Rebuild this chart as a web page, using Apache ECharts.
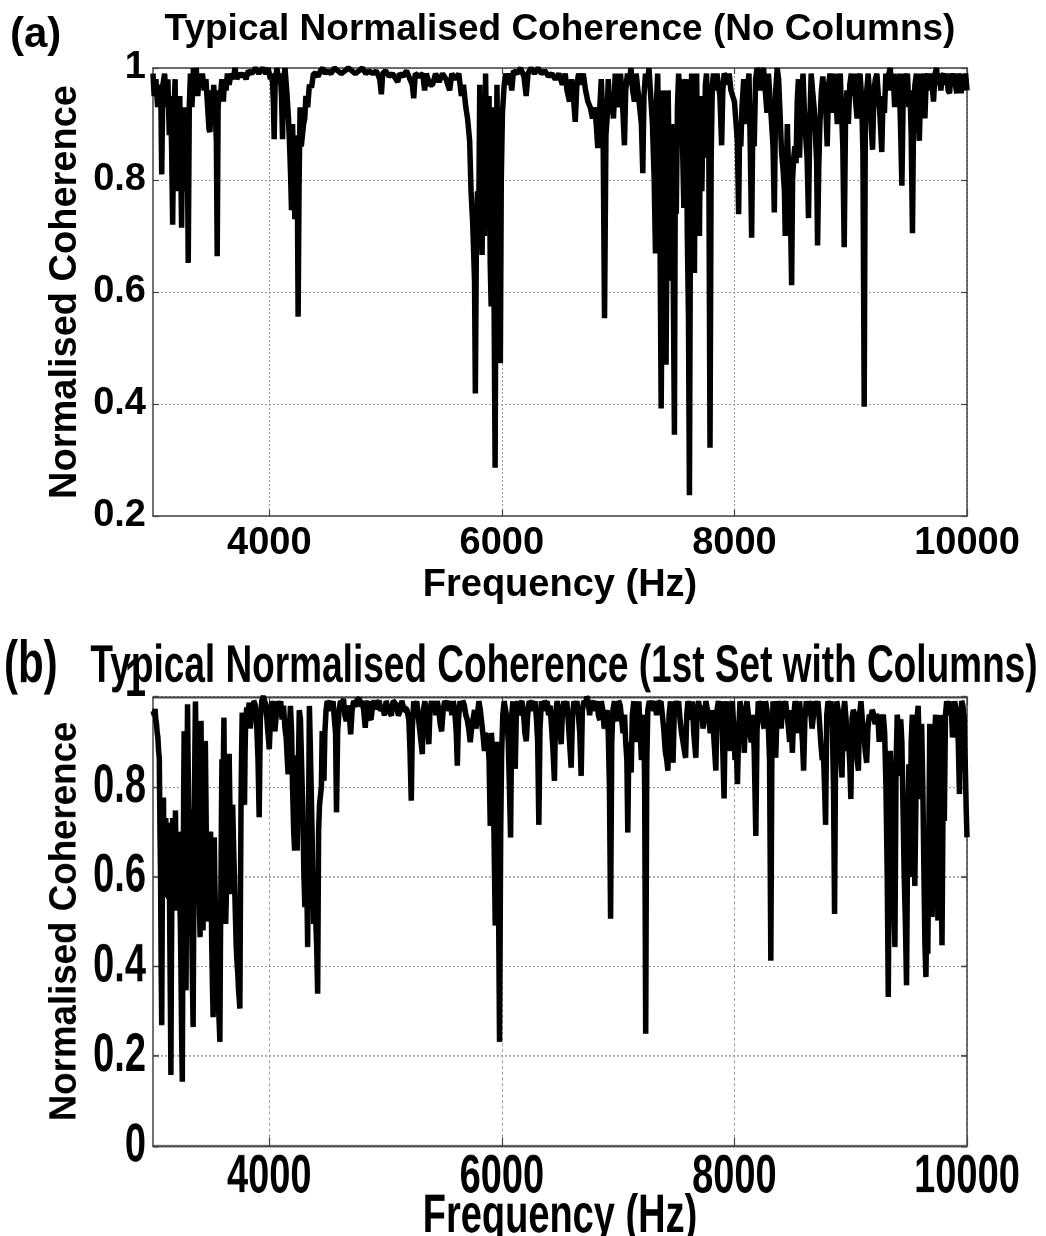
<!DOCTYPE html>
<html><head><meta charset="utf-8">
<script src="https://cdn.jsdelivr.net/npm/echarts@6/dist/echarts.min.js"></script>
<style>
html,body{margin:0;padding:0;background:#fff;overflow:hidden;width:1046px;height:1236px}
#ca{position:absolute;left:0;top:0;width:1046px;height:615px}
#cb{position:absolute;left:0;top:615px;width:1046px;height:460px;transform:scaleY(1.42);transform-origin:0 0}
</style>
</head><body><div id="ca"></div><div id="cb"></div>
<script>
const xTicks = [4000, 6000, 8000, 10000];
const yTicksA = [0.2, 0.4, 0.6, 0.8, 1];
const yTicksB = [0, 0.2, 0.4, 0.6, 0.8, 1];
const panelLabels = ['(a)', '(b)'];
const panelTitles = ['Typical Normalised Coherence (No Columns)', 'Typical Normalised Coherence (1st Set with Columns)'];
const xName = 'Frequency (Hz)';
const yName = 'Normalised Coherence';

// [frequency Hz, normalised coherence]
const coherenceA = [
[3000,0.99],[3010,0.95],[3025,0.98],[3040,0.93],[3055,0.97],[3068,0.94],[3075,0.81],[3085,0.97],[3100,0.99],[3115,0.93],
[3128,0.98],[3140,0.88],[3150,0.95],[3160,0.86],[3169,0.72],[3178,0.90],[3190,0.98],[3198,0.78],[3206,0.93],[3218,0.86],
[3230,0.95],[3238,0.84],[3246,0.715],[3255,0.90],[3265,0.82],[3275,0.93],[3285,0.78],[3295,0.88],[3303,0.652],[3312,0.93],
[3322,0.99],[3335,0.93],[3348,1.0],[3360,0.97],[3372,1.0],[3385,0.95],[3398,0.99],[3410,0.97],[3425,0.99],[3440,0.96],
[3455,0.98],[3470,0.93],[3482,0.89],[3490,0.886],[3500,0.96],[3512,0.90],[3522,0.97],[3535,0.92],[3545,0.87],[3552,0.664],
[3560,0.93],[3570,0.96],[3580,0.95],[3592,0.98],[3605,0.94],[3615,0.98],[3628,0.96],[3640,0.99],[3655,0.97],[3670,0.99],
[3690,0.98],[3705,1.0],[3720,0.98],[3740,0.99],[3760,0.985],[3780,0.99],[3800,0.98],[3820,0.995],[3850,0.99],[3880,1.0],
[3910,0.99],[3940,1.0],[3970,0.99],[3990,1.0],[4010,0.98],[4025,0.99],[4035,0.94],[4042,0.873],[4050,0.97],[4065,1.0],
[4080,0.98],[4095,0.99],[4105,0.95],[4114,0.873],[4122,0.97],[4135,1.0],[4150,0.96],[4165,0.91],[4175,0.86],[4183,0.81],
[4191,0.746],[4200,0.90],[4210,0.80],[4220,0.73],[4230,0.88],[4240,0.83],[4248,0.556],[4256,0.79],[4265,0.93],[4275,0.86],
[4286,0.86],[4295,0.90],[4305,0.91],[4315,0.95],[4330,0.93],[4345,0.97],[4363,0.965],[4380,0.99],[4400,0.99],[4420,0.985],
[4440,0.995],[4460,1.0],[4480,0.99],[4500,0.995],[4530,0.99],[4560,1.0],[4590,0.995],[4620,0.99],[4650,0.995],[4680,1.0],
[4710,0.995],[4740,0.99],[4770,0.995],[4800,1.0],[4830,0.99],[4860,0.995],[4890,0.99],[4920,0.995],[4950,0.98],[4964,0.953],
[4975,0.99],[5000,0.995],[5030,0.985],[5060,0.99],[5090,0.98],[5105,0.975],[5120,0.99],[5150,0.985],[5180,0.995],[5210,0.98],
[5230,0.97],[5242,0.946],[5255,0.99],[5290,0.985],[5320,0.99],[5336,0.96],[5350,0.99],[5380,0.97],[5404,0.97],[5430,0.99],
[5460,0.975],[5490,0.99],[5520,0.98],[5551,0.96],[5570,0.99],[5600,0.98],[5630,0.99],[5652,0.95],[5670,0.97],[5690,0.93],
[5705,0.91],[5723,0.87],[5735,0.78],[5750,0.72],[5765,0.62],[5772,0.419],[5780,0.66],[5790,0.78],[5800,0.70],[5810,0.97],
[5820,0.80],[5830,0.666],[5840,0.92],[5850,0.70],[5860,0.99],[5870,0.83],[5880,0.72],[5890,0.95],[5900,0.65],[5908,0.574],
[5918,0.78],[5925,0.93],[5932,0.62],[5942,0.286],[5950,0.70],[5958,0.97],[5966,0.76],[5975,0.55],[5987,0.473],[5995,0.80],
[6005,0.92],[6020,0.97],[6033,0.99],[6050,0.97],[6070,0.99],[6085,0.96],[6100,0.995],[6130,0.99],[6160,1.0],[6190,0.985],
[6209,0.95],[6225,0.99],[6250,1.0],[6280,0.99],[6310,1.0],[6340,0.99],[6370,0.995],[6400,0.985],[6430,0.99],[6460,0.98],
[6490,0.99],[6520,0.97],[6545,0.99],[6560,0.96],[6582,0.94],[6600,0.98],[6615,0.95],[6631,0.904],[6645,0.97],[6660,0.99],
[6680,0.97],[6700,0.99],[6720,0.96],[6740,0.94],[6760,0.93],[6780,0.91],[6800,0.93],[6815,0.89],[6825,0.857],[6840,0.92],
[6855,0.98],[6870,0.90],[6883,0.553],[6895,0.88],[6905,0.91],[6915,0.98],[6930,0.92],[6945,0.94],[6960,0.91],[6975,0.99],
[6990,0.95],[7005,0.93],[7020,0.99],[7035,0.95],[7054,0.862],[7065,0.96],[7080,0.99],[7095,0.97],[7110,1.0],[7125,0.96],
[7140,0.94],[7155,0.99],[7170,0.96],[7185,0.93],[7200,0.90],[7212,0.812],[7222,0.95],[7235,0.99],[7250,0.97],[7265,1.0],
[7280,0.95],[7295,0.90],[7310,0.80],[7321,0.669],[7330,0.94],[7340,0.99],[7350,0.86],[7360,0.70],[7370,0.392],[7378,0.62],
[7386,0.96],[7395,0.83],[7405,0.62],[7412,0.47],[7420,0.70],[7430,0.96],[7440,0.80],[7450,0.62],[7460,0.90],[7470,0.72],
[7484,0.345],[7492,0.85],[7500,0.74],[7510,0.93],[7520,0.99],[7530,0.96],[7545,0.98],[7555,0.85],[7565,0.75],[7575,0.97],
[7585,0.98],[7595,0.70],[7605,0.55],[7613,0.237],[7622,0.75],[7632,0.99],[7642,0.85],[7656,0.634],[7665,0.96],[7675,0.99],
[7685,0.80],[7699,0.70],[7710,0.95],[7720,0.78],[7730,0.92],[7740,0.84],[7750,0.97],[7760,0.99],[7770,0.90],[7780,0.84],
[7790,0.322],[7800,0.84],[7810,0.97],[7820,0.99],[7835,0.96],[7850,0.99],[7862,0.97],[7875,0.95],[7890,0.862],[7900,0.96],
[7912,0.99],[7925,0.985],[7940,0.97],[7955,0.99],[7970,0.96],[7985,0.95],[8000,0.94],[8015,0.94],[8025,0.87],[8036,0.739],
[8045,0.90],[8055,0.86],[8065,0.93],[8080,0.98],[8095,0.90],[8110,0.96],[8125,0.99],[8136,0.86],[8148,0.697],[8158,0.90],
[8170,0.86],[8182,0.98],[8195,1.0],[8210,0.99],[8222,0.96],[8235,0.99],[8250,1.0],[8265,0.96],[8280,0.92],[8292,0.99],
[8305,0.95],[8320,0.90],[8332,0.86],[8343,0.742],[8355,0.96],[8368,1.0],[8380,0.98],[8392,0.92],[8405,0.85],[8418,0.82],
[8430,0.78],[8437,0.70],[8445,0.80],[8455,0.90],[8465,0.82],[8475,0.74],[8485,0.70],[8492,0.612],[8500,0.80],[8510,0.84],
[8520,0.86],[8530,0.83],[8540,0.94],[8550,0.98],[8560,0.84],[8570,0.92],[8580,0.96],[8590,0.99],[8600,0.93],[8612,0.88],
[8625,0.84],[8637,0.732],[8648,0.90],[8660,0.99],[8672,0.96],[8685,0.93],[8697,0.88],[8707,0.83],[8715,0.683],[8725,0.82],
[8735,0.90],[8748,0.96],[8760,0.985],[8772,0.95],[8785,0.93],[8798,0.86],[8810,0.97],[8822,0.99],[8835,0.96],[8848,0.92],
[8860,0.99],[8872,0.95],[8885,0.90],[8897,0.97],[8910,0.99],[8920,0.93],[8932,0.86],[8944,0.68],[8955,0.90],[8968,0.96],
[8980,0.90],[8992,0.97],[9005,0.99],[9018,0.95],[9030,0.99],[9042,0.94],[9055,0.91],[9068,0.98],[9080,0.99],[9093,0.95],
[9105,0.85],[9116,0.395],[9126,0.92],[9138,0.96],[9150,0.99],[9163,0.95],[9175,0.90],[9188,0.854],[9200,0.96],[9212,0.98],
[9225,0.99],[9238,0.95],[9250,0.92],[9260,0.88],[9267,0.85],[9278,0.95],[9290,0.92],[9302,0.99],[9315,0.96],[9328,0.99],
[9340,1.0],[9352,0.96],[9365,0.99],[9378,0.93],[9390,0.97],[9402,0.95],[9415,0.99],[9428,0.90],[9440,0.79],[9450,0.93],
[9462,0.99],[9475,0.97],[9488,0.99],[9500,0.93],[9510,0.96],[9520,0.88],[9531,0.705],[9540,0.90],[9552,0.97],[9565,0.99],
[9578,0.94],[9590,0.87],[9600,0.95],[9612,0.99],[9625,0.96],[9638,0.91],[9650,0.98],[9662,0.99],[9675,0.96],[9688,0.99],
[9700,0.97],[9712,0.94],[9725,0.99],[9738,1.0],[9750,0.97],[9762,0.99],[9775,0.96],[9788,0.985],[9800,0.99],[9812,0.97],
[9825,0.99],[9838,0.96],[9850,0.955],[9862,0.99],[9875,0.98],[9888,0.99],[9900,0.97],[9912,0.955],[9925,0.99],[9938,0.98],
[9950,0.955],[9962,0.99],[9975,0.97],[9988,0.99],[10000,0.96]
];

// [frequency Hz, normalised coherence]
const coherenceB = [
[3000,0.97],[3006,0.975],[3012,0.96],[3018,0.973],[3024,0.95],[3030,0.94],[3036,0.92],[3042,0.91],[3048,0.88],[3054,0.865],
[3060,0.70],[3065,0.60],[3070,0.40],[3075,0.269],[3080,0.55],[3085,0.70],[3090,0.776],[3095,0.62],[3100,0.554],[3105,0.68],
[3110,0.73],[3115,0.58],[3120,0.60],[3125,0.72],[3130,0.68],[3135,0.55],[3140,0.62],[3145,0.45],[3150,0.30],[3154,0.158],
[3158,0.40],[3162,0.55],[3166,0.68],[3170,0.73],[3174,0.60],[3178,0.695],[3182,0.60],[3186,0.524],[3190,0.66],[3193,0.747],
[3197,0.65],[3200,0.62],[3205,0.70],[3210,0.53],[3215,0.66],[3220,0.70],[3225,0.62],[3230,0.55],[3235,0.50],[3240,0.40],
[3246,0.25],[3252,0.143],[3256,0.40],[3260,0.60],[3264,0.80],[3268,0.924],[3272,0.75],[3276,0.63],[3280,0.45],[3284,0.347],
[3288,0.55],[3292,0.80],[3297,0.984],[3301,0.88],[3305,0.80],[3310,0.70],[3315,0.62],[3320,0.75],[3325,0.60],[3330,0.55],
[3335,0.45],[3340,0.35],[3345,0.265],[3350,0.50],[3355,0.70],[3360,0.88],[3365,0.99],[3370,0.90],[3375,0.80],[3380,0.75],
[3385,0.687],[3390,0.62],[3395,0.58],[3400,0.52],[3405,0.465],[3409,0.75],[3413,0.947],[3417,0.80],[3420,0.70],[3425,0.58],
[3430,0.48],[3435,0.62],[3440,0.75],[3445,0.85],[3450,0.902],[3455,0.78],[3460,0.65],[3466,0.55],[3472,0.50],[3478,0.58],
[3485,0.62],[3490,0.68],[3495,0.70],[3500,0.58],[3505,0.45],[3511,0.36],[3517,0.287],[3522,0.50],[3527,0.687],[3531,0.60],
[3535,0.55],[3540,0.50],[3545,0.45],[3550,0.42],[3555,0.38],[3560,0.34],[3565,0.30],[3570,0.27],[3575,0.232],[3580,0.45],
[3585,0.60],[3589,0.75],[3593,0.861],[3597,0.78],[3600,0.70],[3605,0.85],[3610,0.954],[3614,0.80],[3618,0.65],[3622,0.56],
[3625,0.495],[3630,0.55],[3635,0.60],[3640,0.68],[3645,0.76],[3650,0.82],[3655,0.873],[3660,0.78],[3665,0.70],[3670,0.62],
[3675,0.561],[3680,0.68],[3685,0.76],[3690,0.70],[3695,0.65],[3700,0.60],[3705,0.55],[3710,0.50],[3715,0.45],[3720,0.42],
[3725,0.40],[3730,0.38],[3735,0.35],[3741,0.33],[3747,0.306],[3752,0.55],[3757,0.76],[3762,0.88],[3767,0.965],[3772,0.85],
[3777,0.78],[3782,0.77],[3787,0.76],[3792,0.88],[3797,0.95],[3807,0.976],[3817,0.96],[3827,0.987],[3837,0.93],[3847,0.98],
[3857,0.97],[3867,0.99],[3880,0.98],[3893,0.93],[3903,0.86],[3913,0.732],[3923,0.95],[3935,0.99],[3948,1.0],[3960,0.99],
[3972,0.98],[3985,0.93],[3995,0.90],[4000,0.884],[4010,0.95],[4022,0.99],[4035,0.97],[4048,0.924],[4060,0.96],[4072,0.99],
[4085,0.97],[4098,0.99],[4110,0.95],[4122,0.98],[4135,0.93],[4145,0.91],[4155,0.86],[4162,0.828],[4172,0.92],[4182,0.98],
[4192,0.92],[4200,0.80],[4210,0.70],[4218,0.658],[4225,0.80],[4232,0.87],[4240,0.658],[4250,0.85],[4258,0.97],[4268,0.95],
[4278,0.85],[4288,0.75],[4298,0.60],[4306,0.532],[4314,0.70],[4322,0.60],[4330,0.443],[4338,0.75],[4345,0.98],[4352,0.90],
[4360,0.80],[4368,0.70],[4375,0.60],[4382,0.495],[4390,0.60],[4400,0.50],[4408,0.44],[4416,0.339],[4424,0.70],[4432,0.76],
[4440,0.78],[4448,0.80],[4455,0.924],[4463,0.85],[4470,0.813],[4478,0.92],[4488,0.97],[4498,0.99],[4510,0.98],[4522,0.99],
[4535,0.97],[4548,0.99],[4560,0.95],[4570,0.92],[4578,0.743],[4588,0.924],[4600,0.97],[4612,0.99],[4625,0.98],[4638,0.995],
[4650,0.96],[4662,0.947],[4675,0.98],[4688,0.96],[4700,0.917],[4712,0.97],[4725,0.99],[4738,0.98],[4750,0.99],[4762,0.985],
[4775,0.995],[4788,0.98],[4800,0.99],[4812,0.97],[4825,0.932],[4838,0.98],[4850,0.99],[4862,0.96],[4875,0.95],[4888,0.98],
[4900,0.99],[4915,0.975],[4930,0.98],[4945,0.99],[4960,0.97],[4975,0.98],[4990,0.96],[5005,0.99],[5020,0.975],[5035,0.98],
[5050,0.96],[5065,0.99],[5080,0.985],[5095,0.98],[5110,0.96],[5125,0.97],[5140,0.99],[5155,0.975],[5170,0.98],[5185,0.97],
[5200,0.95],[5210,0.88],[5221,0.769],[5230,0.93],[5242,0.99],[5255,0.97],[5268,0.99],[5280,0.96],[5292,0.93],[5305,0.90],
[5316,0.873],[5325,0.97],[5338,0.99],[5350,0.96],[5362,0.93],[5372,0.895],[5382,0.97],[5395,0.99],[5408,0.97],[5420,0.99],
[5432,0.96],[5445,0.99],[5458,0.97],[5470,0.94],[5482,0.924],[5495,0.97],[5508,0.99],[5520,0.98],[5532,0.99],[5545,0.97],
[5558,0.99],[5570,0.96],[5582,0.99],[5595,0.97],[5608,0.92],[5617,0.847],[5627,0.95],[5640,0.99],[5652,0.97],[5665,0.99],
[5678,0.98],[5690,0.96],[5702,0.95],[5715,0.93],[5728,0.90],[5740,0.93],[5752,0.95],[5765,0.97],[5778,0.93],[5790,0.96],
[5802,0.99],[5815,0.97],[5828,0.94],[5840,0.91],[5850,0.88],[5860,0.92],[5870,0.89],[5880,0.90],[5890,0.86],[5900,0.713],
[5910,0.92],[5920,0.88],[5932,0.70],[5943,0.491],[5952,0.75],[5962,0.90],[5970,0.60],[5980,0.232],[5990,0.70],[5998,0.873],
[6008,0.96],[6020,0.99],[6032,0.97],[6045,0.95],[6055,0.90],[6065,0.80],[6075,0.687],[6085,0.96],[6095,0.99],[6105,0.90],
[6115,0.84],[6125,0.97],[6135,0.99],[6148,0.96],[6160,0.98],[6172,0.99],[6185,0.97],[6198,0.92],[6210,0.902],[6222,0.96],
[6235,0.99],[6248,0.98],[6260,0.99],[6272,0.97],[6285,0.99],[6298,0.95],[6308,0.90],[6318,0.715],[6328,0.93],[6340,0.99],
[6352,0.97],[6365,0.99],[6378,0.98],[6390,0.99],[6402,0.96],[6415,0.98],[6428,0.93],[6440,0.88],[6452,0.813],[6462,0.96],
[6475,0.99],[6488,0.97],[6500,0.93],[6510,0.895],[6520,0.96],[6532,0.99],[6545,0.97],[6558,0.99],[6570,0.95],[6582,0.90],
[6596,0.843],[6608,0.96],[6620,0.99],[6632,0.97],[6645,0.99],[6658,0.96],[6670,0.92],[6682,0.824],[6692,0.97],[6705,0.99],
[6718,0.98],[6730,1.0],[6742,0.99],[6755,0.96],[6768,0.99],[6780,0.98],[6792,0.99],[6805,0.97],[6818,0.99],[6830,0.96],
[6842,0.95],[6855,0.99],[6868,0.97],[6880,0.93],[6892,0.924],[6905,0.97],[6915,0.92],[6925,0.80],[6935,0.506],[6945,0.90],
[6955,0.97],[6968,0.99],[6980,0.96],[6992,0.947],[7005,0.99],[7018,0.98],[7030,0.95],[7042,0.92],[7055,0.96],[7065,0.90],
[7075,0.86],[7083,0.698],[7092,0.90],[7102,0.86],[7112,0.832],[7122,0.96],[7135,0.99],[7148,0.93],[7158,0.90],[7168,0.96],
[7178,0.99],[7190,0.92],[7200,0.86],[7210,0.90],[7220,0.96],[7228,0.80],[7237,0.25],[7246,0.85],[7255,0.97],[7268,0.99],
[7280,0.976],[7292,0.99],[7305,0.97],[7318,0.99],[7330,0.96],[7342,0.99],[7355,0.98],[7368,0.99],[7380,0.96],[7392,0.93],
[7405,0.88],[7418,0.86],[7428,0.836],[7438,0.96],[7450,0.99],[7462,0.92],[7472,0.854],[7482,0.96],[7495,0.99],[7508,0.97],
[7520,0.99],[7532,0.95],[7545,0.92],[7558,0.90],[7570,0.88],[7580,0.865],[7590,0.96],[7600,0.99],[7612,0.97],[7625,0.95],
[7638,0.99],[7650,0.92],[7668,0.865],[7680,0.97],[7692,0.99],[7705,0.96],[7718,0.98],[7730,0.93],[7742,0.96],[7755,0.99],
[7768,0.97],[7780,0.95],[7792,0.92],[7805,0.97],[7818,0.93],[7830,0.88],[7840,0.836],[7850,0.97],[7862,0.99],[7875,0.96],
[7888,0.99],[7900,0.88],[7911,0.774],[7921,0.96],[7932,0.99],[7945,0.93],[7958,0.88],[7970,0.97],[7982,0.99],[7995,0.93],
[8005,0.86],[8015,0.90],[8026,0.806],[8036,0.92],[8048,0.99],[8060,0.97],[8072,0.95],[8085,0.876],[8095,0.96],[8108,0.99],
[8120,0.96],[8132,0.92],[8145,0.90],[8158,0.96],[8170,0.88],[8184,0.691],[8194,0.92],[8205,0.99],[8218,0.97],[8230,0.99],
[8242,0.95],[8255,0.93],[8268,0.99],[8280,0.97],[8292,0.93],[8302,0.86],[8313,0.413],[8322,0.88],[8332,0.99],[8345,0.96],
[8355,0.865],[8365,0.95],[8378,0.99],[8390,0.97],[8402,0.93],[8415,0.99],[8428,0.97],[8440,0.99],[8452,0.96],[8465,0.93],
[8475,0.90],[8485,0.97],[8498,0.876],[8510,0.96],[8522,0.99],[8535,0.97],[8548,0.92],[8560,0.99],[8572,0.95],[8585,0.90],
[8595,0.836],[8606,0.95],[8618,0.99],[8630,0.96],[8642,0.99],[8655,0.97],[8668,0.93],[8680,0.96],[8692,0.99],[8705,0.97],
[8718,0.99],[8730,0.95],[8742,0.90],[8755,0.86],[8765,0.88],[8775,0.80],[8784,0.715],[8794,0.96],[8805,0.99],[8818,0.97],
[8830,0.99],[8842,0.93],[8852,0.80],[8861,0.517],[8870,0.88],[8880,0.99],[8892,0.97],[8905,0.93],[8915,0.86],[8925,0.821],
[8935,0.96],[8948,0.99],[8960,0.95],[8972,0.88],[8982,0.90],[8992,0.85],[9001,0.773],[9011,0.95],[9022,0.97],[9035,0.96],
[9045,0.92],[9055,0.86],[9066,0.836],[9076,0.96],[9088,0.99],[9100,0.95],[9112,0.92],[9125,0.88],[9137,0.854],[9148,0.93],
[9160,0.96],[9172,0.95],[9185,0.97],[9198,0.96],[9210,0.94],[9222,0.96],[9235,0.95],[9245,0.90],[9256,0.96],[9268,0.94],
[9280,0.96],[9292,0.92],[9303,0.80],[9314,0.60],[9323,0.332],[9332,0.70],[9340,0.88],[9350,0.80],[9360,0.65],[9370,0.55],
[9380,0.443],[9390,0.85],[9400,0.96],[9410,0.93],[9420,0.824],[9430,0.95],[9440,0.90],[9450,0.75],[9460,0.60],[9470,0.50],
[9480,0.358],[9490,0.70],[9500,0.85],[9510,0.599],[9520,0.90],[9530,0.96],[9540,0.80],[9551,0.579],[9560,0.75],[9570,0.95],
[9580,0.98],[9590,0.88],[9600,0.773],[9610,0.94],[9620,0.80],[9630,0.60],[9638,0.45],[9647,0.376],[9655,0.55],[9663,0.428],
[9672,0.70],[9680,0.94],[9690,0.80],[9700,0.51],[9710,0.75],[9720,0.90],[9730,0.96],[9740,0.70],[9750,0.502],[9760,0.78],
[9770,0.96],[9778,0.60],[9785,0.447],[9795,0.80],[9805,0.724],[9815,0.96],[9825,0.99],[9835,0.97],[9845,0.99],[9855,0.96],
[9865,0.98],[9875,0.91],[9885,0.96],[9895,0.99],[9905,0.97],[9915,0.95],[9925,0.90],[9935,0.784],[9945,0.96],[9955,0.99],
[9965,0.98],[9975,0.95],[9985,0.85],[9993,0.75],[10000,0.687]
];

const font = "'Liberation Sans', Arial, Helvetica, sans-serif";
const axisColor = '#444';
const gridLineStyle = { color: '#999', type: [2, 2], width: 1 };
const text = { color: '#000', fontFamily: font, fontWeight: 'bold', fontSize: 38 };

function fmtY(v) { return String(Math.round(v * 10) / 10); }
function fmtYRaisedTop(v) { return v >= 1 ? '{up|1}' : fmtY(v); }
function fmtX(v) { return String(Math.round(v)); }

function makeAxes(yMin, xLabelMargin, xNameGap, showYName, yNameGap, raiseTop) {
  const xs = [
    { type: 'value', min: 3000, max: 10000, position: 'bottom',
      axisLine: { show: true, onZero: false, lineStyle: { color: axisColor, width: 1.5 } },
      axisTick: { show: true, inside: true, length: 6, customValues: xTicks, lineStyle: { color: axisColor, width: 1.2 } },
      axisLabel: Object.assign({ show: true, customValues: xTicks, margin: xLabelMargin, formatter: fmtX }, text),
      splitLine: { show: true, lineStyle: gridLineStyle },
      name: xName, nameLocation: 'middle', nameGap: xNameGap, nameMoveOverlap: false,
      nameTextStyle: Object.assign({}, text) },
    { type: 'value', min: 3000, max: 10000, position: 'top',
      axisLine: { show: true, onZero: false, lineStyle: { color: axisColor, width: 1.5 } },
      axisTick: { show: true, inside: true, length: 6, customValues: xTicks, lineStyle: { color: axisColor, width: 1.2 } },
      axisLabel: { show: false }, splitLine: { show: false } }
  ];
  const yLabel = Object.assign({ show: true, margin: 7, formatter: raiseTop ? fmtYRaisedTop : fmtY }, text);
  if (raiseTop) {
    yLabel.rich = { up: Object.assign({}, text, { padding: [0, 0, 22, 0] }) };
  }
  const left = { type: 'value', min: yMin, max: 1, interval: 0.2, position: 'left',
      axisLine: { show: true, onZero: false, lineStyle: { color: axisColor, width: 1.5 } },
      axisTick: { show: true, inside: true, length: 6, lineStyle: { color: axisColor, width: 1.2 } },
      axisLabel: yLabel,
      splitLine: { show: true, lineStyle: gridLineStyle } };
  if (showYName) {
    Object.assign(left, { name: yName, nameLocation: 'middle', nameGap: yNameGap, nameRotate: 90, nameMoveOverlap: false,
      nameTextStyle: Object.assign({}, text) });
  }
  const ys = [left,
    { type: 'value', min: yMin, max: 1, interval: 0.2, position: 'right',
      axisLine: { show: true, onZero: false, lineStyle: { color: axisColor, width: 1.5 } },
      axisTick: { show: true, inside: true, length: 6, lineStyle: { color: axisColor, width: 1.2 } },
      axisLabel: { show: false }, splitLine: { show: false } }
  ];
  return { xs, ys };
}

// Panel (a)
const axA = makeAxes(yTicksA[0], 9, 51, true, 68, false);
const chartA = echarts.init(document.getElementById('ca'), null, { renderer: 'canvas' });
chartA.setOption({
  animation: false,
  backgroundColor: '#fff',
  grid: { left: 153, top: 68, width: 814, height: 448, outerBoundsMode: 'none', containLabel: false },
  xAxis: axA.xs,
  yAxis: axA.ys,
  graphic: [
    { type: 'text', x: 10, y: 35, style: { text: panelLabels[0], fontFamily: font, fontWeight: 'bold', fontSize: 42, fill: '#000', align: 'left', verticalAlign: 'middle' } },
    { type: 'text', x: 560, y: 30, style: { text: panelTitles[0], fontFamily: font, fontWeight: 'bold', fontSize: 37, fill: '#000', align: 'center', verticalAlign: 'middle' } }
  ],
  series: [{ type: 'line', data: coherenceA, symbol: 'none', showSymbol: false, lineStyle: { color: '#000', width: 5.5 }, z: 5 }]
});

// Panel (b): drawn in a vertically stretched frame (scaleY 1.42) like the reference
const axB = makeAxes(yTicksB[0], 3, 31, false, 0, true);
const chartB = echarts.init(document.getElementById('cb'), null, { renderer: 'canvas', devicePixelRatio: 2 });
chartB.setOption({
  animation: false,
  backgroundColor: 'rgba(0,0,0,0)',
  grid: { left: 153, top: 57.7, width: 814, height: 316.2, outerBoundsMode: 'none', containLabel: false },
  xAxis: axB.xs,
  yAxis: axB.ys,
  graphic: [
    { type: 'text', x: 4, y: 36, style: { text: panelLabels[1], fontFamily: font, fontWeight: 'bold', fontSize: 42, fill: '#000', align: 'left', verticalAlign: 'middle' } },
    { type: 'text', x: 564, y: 36.6, style: { text: panelTitles[1], fontFamily: font, fontWeight: 'bold', fontSize: 37, fill: '#000', align: 'center', verticalAlign: 'middle' } },
    { type: 'text', x: 65, y: 215.8, rotation: Math.PI / 2, scaleX: 0.68,
      style: { text: yName, fontFamily: font, fontWeight: 'bold', fontSize: 38, fill: '#000', align: 'center', verticalAlign: 'middle' } }
  ],
  series: [{ type: 'line', data: coherenceB, symbol: 'none', showSymbol: false, lineStyle: { color: '#000', width: 5.5 }, z: 5 }]
});
</script></body></html>
